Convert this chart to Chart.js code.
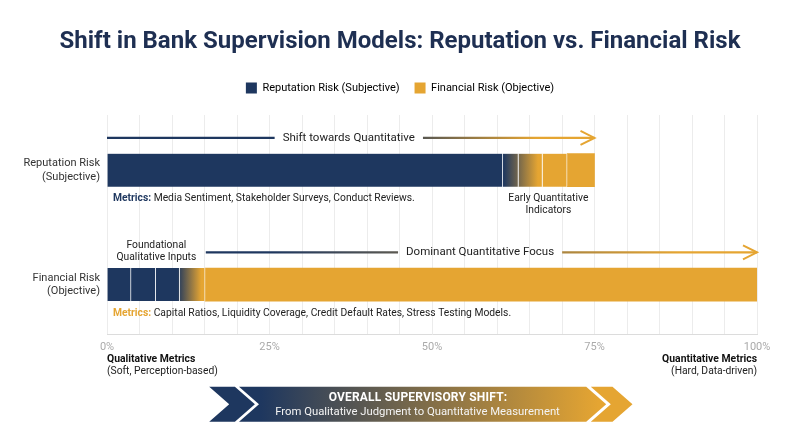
<!DOCTYPE html>
<html><head><meta charset="utf-8">
<script src="https://cdn.jsdelivr.net/npm/chart.js@4"></script>
<style>html,body{margin:0;padding:0;background:#fff}</style>
</head><body>
<canvas id="c" width="800" height="447"></canvas>
<script>
// ---- data ----
const titleText = 'Shift in Bank Supervision Models: Reputation vs. Financial Risk';
const categories = ['Reputation Risk (Subjective)', 'Financial Risk (Objective)'];
const seriesNames = ['Reputation Risk (Subjective)', 'Financial Risk (Objective)'];
const reputationSegments = [60.9, 2.4, 3.7, 3.8, 4.2];   // % of scale, sums to 75
const financialSegments  = [3.7, 3.8, 3.7, 3.9, 84.9];   // % of scale, sums to 100
const blendStart = [61.0, 10.8];   // % where qualitative colour starts blending
const blendEnd   = [66.3, 14.5];   // % where blend reaches quantitative colour
const xTickLabels = [0, 25, 50, 75, 100];
const metricsText = [
  'Media Sentiment, Stakeholder Surveys, Conduct Reviews.',
  'Capital Ratios, Liquidity Coverage, Credit Default Rates, Stress Testing Models.'
];
const arrowLabels = ['Shift towards Quantitative', 'Dominant Quantitative Focus'];
const arrowFrom = [0, 15.2];
const arrowTo = [75, 100];
const arrowLabelAt = [37.2, 57.4];
const sideNotes = [['Early Quantitative', 'Indicators'], ['Foundational', 'Qualitative Inputs']];
const sideNoteAt = [67.9, 7.6];
const axisEnds = [['Qualitative Metrics', '(Soft, Perception-based)'], ['Quantitative Metrics', '(Hard, Data-driven)']];
const bannerLines = ['OVERALL SUPERVISORY SHIFT:', 'From Qualitative Judgment to Quantitative Measurement'];

// ---- styles ----
const NAVY = '#1e375f';
const GOLD = '#e5a532';
const TITLE = '#1e2f52';
const FONT = 'Roboto';
Chart.defaults.font.family = FONT;

const rows = [reputationSegments, financialSegments];

function rowGradient(c) {
  const ch = c.chart;
  const xs = ch.scales && ch.scales.x;
  if (!xs || !ch.chartArea || c.dataIndex === undefined) return NAVY;
  const r = c.dataIndex;
  const g = ch.ctx.createLinearGradient(xs.getPixelForValue(blendStart[r]), 0, xs.getPixelForValue(blendEnd[r]), 0);
  g.addColorStop(0, NAVY);
  g.addColorStop(1, GOLD);
  return g;
}

const nSeg = reputationSegments.length;
const datasets = reputationSegments.map((_, i) => ({
  label: 'segment ' + (i + 1),
  xAxisID: 'x',
  yAxisID: 'y',
  data: rows.map((segs, r) => ({ x: segs[i], y: r })),
  backgroundColor: rowGradient,
  borderColor: 'rgba(255,255,255,0.7)',
  borderWidth: i < nSeg - 1 ? { top: 0, bottom: 0, left: 0, right: 1 } : 0,
  borderSkipped: false,
  barThickness: 33
}));

function splitLabel(s) {
  const k = s.indexOf(' (');
  return k > 0 ? [s.slice(0, k), s.slice(k + 1)] : s;
}

function drawText(ctx, s, x, y, font, color, align, spacing) {
  ctx.font = font;
  ctx.fillStyle = color;
  ctx.textAlign = align || 'left';
  ctx.textBaseline = 'middle';
  if ('letterSpacing' in ctx) ctx.letterSpacing = spacing || '0px';
  ctx.fillText(s, x, y);
  if ('letterSpacing' in ctx) ctx.letterSpacing = '0px';
}

function chevron(ctx, xl, xr, yt, yb, d) {
  const ym = (yt + yb) / 2;
  ctx.beginPath();
  ctx.moveTo(xl, yt); ctx.lineTo(xr, yt); ctx.lineTo(xr + d, ym);
  ctx.lineTo(xr, yb); ctx.lineTo(xl, yb); ctx.lineTo(xl + d, ym);
  ctx.closePath();
}

const annotations = {
  id: 'annotations',
  afterDatasetsDraw(chart) {
    const ctx = chart.ctx;
    const xs = chart.scales.x, ys = chart.scales.y;
    const reg = '10.3px ' + FONT, bold = 'bold 10.3px ' + FONT;
    const arrowFont = '11.5px ' + FONT;
    ctx.save();
    const arrowStops = [[0.55, 0.88], [0.12, 0.86]];
    rows.forEach((_, r) => {
      const yc = ys.getPixelForValue(r);
      const ay = yc - 32.3;
      const x0 = xs.getPixelForValue(arrowFrom[r]);
      const x1 = xs.getPixelForValue(arrowTo[r]);
      const tx = xs.getPixelForValue(arrowLabelAt[r]);
      ctx.font = arrowFont;
      const w = ctx.measureText(arrowLabels[r]).width;
      const g = ctx.createLinearGradient(x0, 0, x1, 0);
      g.addColorStop(0, NAVY);
      g.addColorStop(arrowStops[r][0], NAVY);
      g.addColorStop(arrowStops[r][1], GOLD);
      g.addColorStop(1, GOLD);
      ctx.strokeStyle = g;
      ctx.lineWidth = 2.3;
      ctx.lineCap = 'butt';
      ctx.beginPath();
      ctx.moveTo(x0, ay); ctx.lineTo(tx - w / 2 - 8, ay);
      ctx.moveTo(tx + w / 2 + 8, ay); ctx.lineTo(x1, ay);
      ctx.stroke();
      ctx.strokeStyle = GOLD;
      ctx.lineWidth = 2;
      ctx.lineJoin = 'miter';
      ctx.beginPath();
      ctx.moveTo(x1 - 14, ay - 7); ctx.lineTo(x1, ay); ctx.lineTo(x1 - 14, ay + 7);
      ctx.stroke();
      drawText(ctx, arrowLabels[r], tx, ay, arrowFont, '#222', 'center');

      const my = yc + 28.5;
      const mx = xs.getPixelForValue(0) + 6;
      ctx.font = bold;
      const lw = ctx.measureText('Metrics: ').width;
      drawText(ctx, 'Metrics:', mx, my, bold, r === 0 ? NAVY : GOLD, 'left');
      drawText(ctx, metricsText[r], mx + lw, my, reg, '#222', 'left');
    });
    {
      const yc0 = ys.getPixelForValue(0), yc1 = ys.getPixelForValue(1);
      const sx0 = xs.getPixelForValue(sideNoteAt[0]);
      drawText(ctx, sideNotes[0][0], sx0, yc0 + 28.7, reg, '#222', 'center');
      drawText(ctx, sideNotes[0][1], sx0, yc0 + 40.7, reg, '#222', 'center');
      const sx1 = xs.getPixelForValue(sideNoteAt[1]);
      drawText(ctx, sideNotes[1][0], sx1, yc1 - 38.7, reg, '#222', 'center');
      drawText(ctx, sideNotes[1][1], sx1, yc1 - 27.0, reg, '#222', 'center');
    }
    const L = xs.getPixelForValue(0), R = xs.getPixelForValue(100);
    const capB = 'bold 10.4px ' + FONT;
    drawText(ctx, axisEnds[0][0], L, 359, capB, '#111', 'left');
    drawText(ctx, axisEnds[0][1], L, 371.5, reg, '#222', 'left');
    drawText(ctx, axisEnds[1][0], R, 359, capB, '#111', 'right');
    drawText(ctx, axisEnds[1][1], R, 371.5, reg, '#222', 'right');

    const yt = 386.7, yb = 421.7, d = 20;
    ctx.fillStyle = NAVY;
    chevron(ctx, 209.2, 234.9, yt, yb, d); ctx.fill();
    const bg = ctx.createLinearGradient(239, 0, 606, 0);
    bg.addColorStop(0, NAVY); bg.addColorStop(0.06, NAVY); bg.addColorStop(0.98, GOLD); bg.addColorStop(1, GOLD);
    ctx.fillStyle = bg;
    chevron(ctx, 239, 586.2, yt, yb, d); ctx.fill();
    ctx.fillStyle = GOLD;
    chevron(ctx, 590.8, 612.5, yt, yb, d); ctx.fill();
    drawText(ctx, bannerLines[0], 418, 397.7, 'bold 12px ' + FONT, '#ffffff', 'center', '0.2px');
    drawText(ctx, bannerLines[1], 417.5, 412, '11.3px ' + FONT, '#f4f4f4', 'center');
    ctx.restore();
  }
};

new Chart(document.getElementById('c'), {
  type: 'bar',
  data: { datasets },
  options: {
    indexAxis: 'y',
    responsive: false,
    animation: false,
    devicePixelRatio: 1,
    layout: { padding: { left: 0, right: 0, top: 0, bottom: 87 } },
    plugins: {
      title: {
        display: true, text: titleText, color: TITLE,
        font: { family: FONT, size: 24, weight: 'bold' },
        padding: { top: 28, bottom: 10.7 }
      },
      legend: {
        display: true,
        labels: {
          boxWidth: 11, boxHeight: 11, padding: 15, color: '#333',
          font: { family: FONT, size: 11 },
          generateLabels: () => seriesNames.map((n, i) => ({
            text: n, fillStyle: i === 0 ? NAVY : GOLD, strokeStyle: i === 0 ? NAVY : GOLD,
            lineWidth: 0, hidden: false, datasetIndex: i
          }))
        },
        onClick: () => {}
      },
      tooltip: { enabled: false }
    },
    scales: {
      x: {
        type: 'linear', min: 0, max: 100, stacked: true,
        ticks: {
          stepSize: 5, autoSkip: false, maxRotation: 0, padding: 6, color: '#aaaaaa',
          font: { size: 11 },
          callback: v => xTickLabels.includes(v) ? v + '%' : ''
        },
        grid: { color: '#ececec', drawTicks: false },
        border: { color: '#dcdcdc' }
      },
      y: {
        type: 'linear', reverse: true, offset: false, min: -0.4824, max: 1.4386, stacked: true,
        afterBuildTicks: s => { s.ticks = categories.map((_, i) => ({ value: i })); },
        afterFit: s => { s.width = 107; },
        ticks: {
          padding: 7, color: '#333', font: { size: 11 },
          callback: v => splitLabel(categories[v] || '')
        },
        grid: { display: false, drawTicks: false, tickLength: 0, offset: false },
        border: { display: false }
      },
      xTop: {
        type: 'linear', position: 'top', display: true,
        ticks: { display: false }, grid: { display: false, drawTicks: false }, border: { display: false },
        afterFit: s => { s.height = 11.5; }
      },
      yRight: {
        type: 'linear', position: 'right', display: true,
        ticks: { display: false }, grid: { display: false, drawTicks: false }, border: { display: false },
        afterFit: s => { s.width = 43; }
      }
    }
  },
  plugins: [annotations]
});
</script>
</body></html>
